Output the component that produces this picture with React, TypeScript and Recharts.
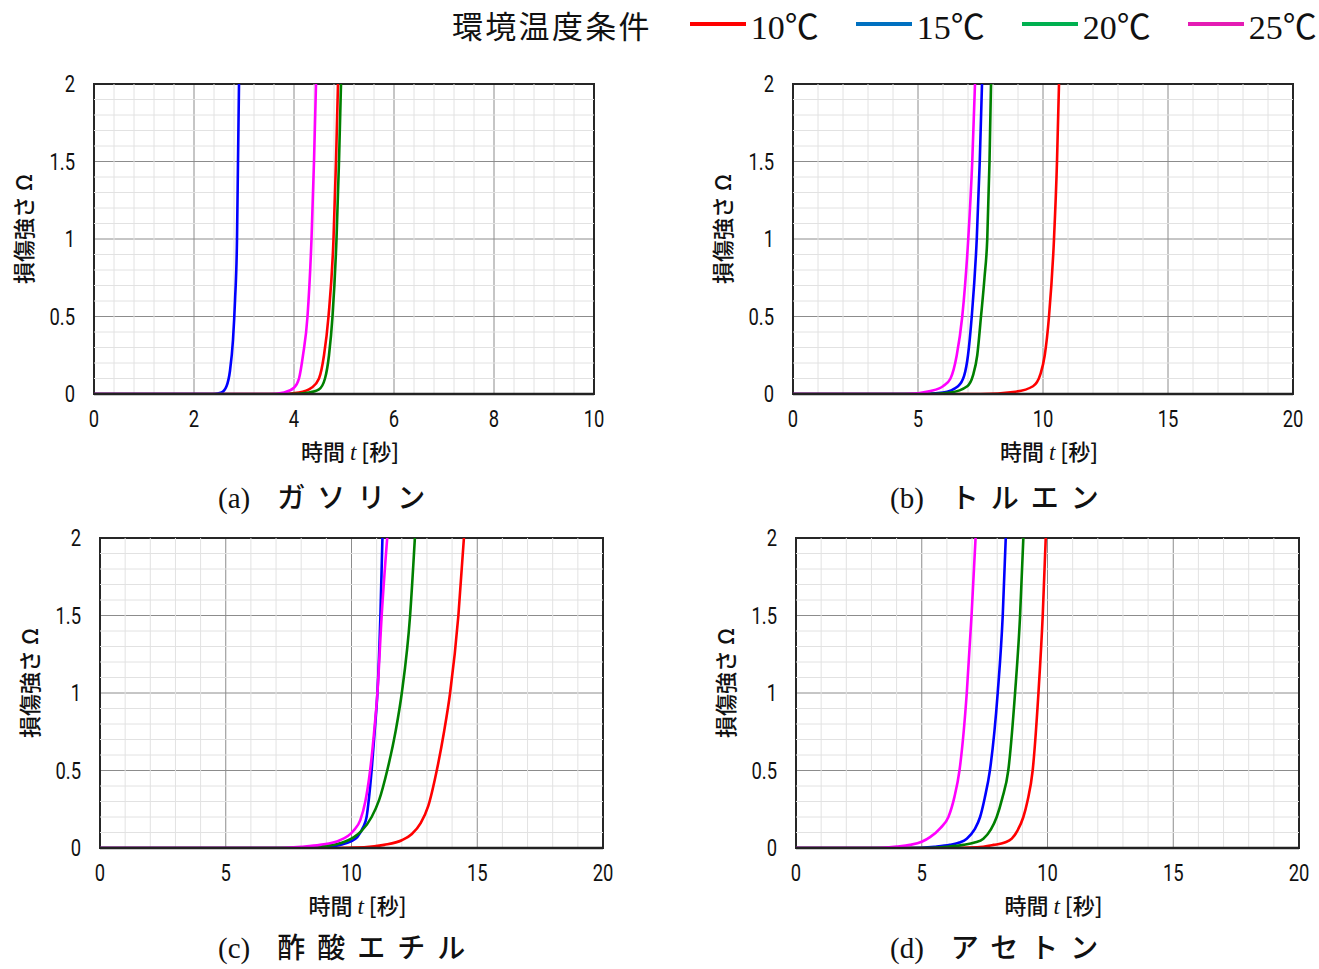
import { LineChart, Line, XAxis, YAxis, CartesianGrid, ReferenceLine, ReferenceArea } from "recharts";

// 環境温度条件
const TEMPS = ["10℃", "15℃", "20℃", "25℃"];
const LINE_COLORS = ["#ff0000", "#0000ff", "#008000", "#ff00ff"];
const LEGEND_COLORS = ["#ff0000", "#0070c0", "#00b050", "#e41cb4"];

const Y_TICKS = [0, 0.5, 1, 1.5, 2];
const X_TICKS_10 = [0, 2, 4, 6, 8, 10];
const X_TICKS_20 = [0, 5, 10, 15, 20];

// [t (秒), Ω]
const GASOLINE_10 = [[0, 0], [3.7, 0], [4.1, 0.01], [4.35, 0.04], [4.5, 0.1], [4.6, 0.25], [4.69, 0.5], [4.79, 1.0], [4.84, 1.5], [4.88, 2]];
const GASOLINE_15 = [[0, 0], [2.4, 0], [2.55, 0.01], [2.65, 0.05], [2.72, 0.15], [2.78, 0.35], [2.82, 0.6], [2.86, 1.0], [2.88, 1.5], [2.9, 2]];
const GASOLINE_20 = [[0, 0], [3.9, 0], [4.3, 0.01], [4.5, 0.03], [4.62, 0.1], [4.7, 0.25], [4.77, 0.5], [4.85, 1.0], [4.9, 1.5], [4.94, 2]];
const GASOLINE_25 = [[0, 0], [3.5, 0], [3.8, 0.01], [4.0, 0.04], [4.1, 0.1], [4.18, 0.25], [4.27, 0.5], [4.35, 1.0], [4.4, 1.5], [4.44, 2]];

const TOLUENE_10 = [[0, 0], [7.5, 0], [8.9, 0.015], [9.6, 0.05], [9.9, 0.13], [10.07, 0.25], [10.24, 0.5], [10.44, 1.0], [10.56, 1.5], [10.64, 2]];
const TOLUENE_15 = [[0, 0], [5, 0], [6.0, 0.01], [6.6, 0.05], [6.85, 0.12], [7.0, 0.25], [7.15, 0.5], [7.35, 1.0], [7.47, 1.5], [7.56, 2]];
const TOLUENE_20 = [[0, 0], [5.2, 0], [6.3, 0.01], [6.97, 0.05], [7.2, 0.12], [7.37, 0.25], [7.52, 0.5], [7.66, 0.75], [7.77, 1.0], [7.86, 1.5], [7.92, 2]];
const TOLUENE_25 = [[0, 0], [4.5, 0], [5.5, 0.02], [6.0, 0.05], [6.3, 0.1], [6.55, 0.25], [6.77, 0.5], [7.01, 1.0], [7.17, 1.5], [7.28, 2]];

const ETHYL_ACETATE_10 = [[0, 0], [9, 0], [10.5, 0.005], [11.3, 0.02], [12.0, 0.05], [12.4, 0.09], [12.75, 0.16], [13.05, 0.27], [13.39, 0.5], [13.68, 0.75], [13.92, 1.0], [14.25, 1.5], [14.47, 2]];
const ETHYL_ACETATE_15 = [[0, 0], [7.5, 0], [9.0, 0.005], [9.54, 0.02], [10.0, 0.045], [10.23, 0.07], [10.45, 0.13], [10.6, 0.2], [10.7, 0.33], [10.8, 0.5], [10.92, 0.75], [11.03, 1.0], [11.15, 1.5], [11.23, 2]];
const ETHYL_ACETATE_20 = [[0, 0], [7.5, 0], [8.8, 0.01], [9.54, 0.03], [10.1, 0.07], [10.4, 0.11], [10.8, 0.2], [11.1, 0.31], [11.42, 0.5], [11.75, 0.75], [12.0, 1.0], [12.33, 1.5], [12.52, 2]];
const ETHYL_ACETATE_25 = [[0, 0], [7, 0], [8.0, 0.008], [8.75, 0.02], [9.54, 0.05], [10.07, 0.11], [10.35, 0.18], [10.55, 0.3], [10.74, 0.5], [10.9, 0.75], [11.03, 1.0], [11.2, 1.5], [11.42, 2]];

const ACETONE_10 = [[0, 0], [6, 0], [7.2, 0.005], [7.85, 0.02], [8.3, 0.035], [8.58, 0.06], [8.8, 0.11], [9.04, 0.2], [9.2, 0.3], [9.41, 0.5], [9.64, 1.0], [9.81, 1.5], [9.93, 2]];
const ACETONE_15 = [[0, 0], [4.5, 0], [5.5, 0.008], [6.12, 0.02], [6.5, 0.035], [6.79, 0.06], [7.1, 0.12], [7.32, 0.2], [7.5, 0.32], [7.71, 0.5], [8.02, 1.0], [8.22, 1.5], [8.34, 2]];
const ACETONE_20 = [[0, 0], [5, 0], [6.0, 0.008], [6.65, 0.02], [7.1, 0.035], [7.45, 0.06], [7.75, 0.12], [7.98, 0.2], [8.2, 0.32], [8.44, 0.5], [8.71, 1.0], [8.91, 1.5], [9.04, 2]];
const ACETONE_25 = [[0, 0], [3, 0], [4.0, 0.01], [4.53, 0.02], [5.0, 0.04], [5.33, 0.07], [5.75, 0.13], [6.06, 0.2], [6.3, 0.33], [6.5, 0.5], [6.79, 1.0], [6.98, 1.5], [7.14, 2]];

const TICK_FONT = "'Liberation Sans Narrow', Roboto, 'Noto Sans CJK JP', sans-serif";
const JP_FONT = "'Noto Sans CJK JP', sans-serif";
const SERIF = "'Liberation Serif', 'Noto Sans CJK JP', serif";

const toPts = (arr: number[][]) => arr.map(([t, w]) => ({ t, w }));

const minorTicks = (max: number, step: number, major: number[]) => {
  const out: number[] = [];
  for (let i = 1; i * step < max - 1e-9; i++) {
    const v = +(i * step).toFixed(3);
    if (!major.some((m) => Math.abs(m - v) < 1e-6)) out.push(v);
  }
  return out;
};

// narrow tick labels (the original uses a condensed face)
function NarrowTick(props: any) {
  const { x, y, payload, anchor, dy } = props;
  return (
    <g transform={`translate(${x},${y})`}>
      <text
        transform="scale(0.8,1)"
        textAnchor={anchor}
        dy={dy}
        fontSize={23}
        fill="#111"
        fontFamily={TICK_FONT}
      >
        {payload.value}
      </text>
    </g>
  );
}

type Panel = {
  tag: string;
  name: string;
  xMax: number;
  xTicks: number[];
  xMinor: number;
  series: number[][][];
  left: number;
  top: number;
  width: number;
  height: number;
  titleLeft: number;
};

const PANELS: Panel[] = [
  { tag: "(a)", name: "ガソリン", xMax: 10, xTicks: X_TICKS_10, xMinor: 0.4, series: [GASOLINE_10, GASOLINE_15, GASOLINE_20, GASOLINE_25], left: 94, top: 84, width: 500, height: 310, titleLeft: 218 },
  { tag: "(b)", name: "トルエン", xMax: 20, xTicks: X_TICKS_20, xMinor: 1, series: [TOLUENE_10, TOLUENE_15, TOLUENE_20, TOLUENE_25], left: 793, top: 84, width: 500, height: 310, titleLeft: 890 },
  { tag: "(c)", name: "酢酸エチル", xMax: 20, xTicks: X_TICKS_20, xMinor: 1, series: [ETHYL_ACETATE_10, ETHYL_ACETATE_15, ETHYL_ACETATE_20, ETHYL_ACETATE_25], left: 100, top: 538, width: 503, height: 310, titleLeft: 218 },
  { tag: "(d)", name: "アセトン", xMax: 20, xTicks: X_TICKS_20, xMinor: 1, series: [ACETONE_10, ACETONE_15, ACETONE_20, ACETONE_25], left: 796, top: 538, width: 503, height: 310, titleLeft: 890 },
];

const ML = 70, MT = 20, MR = 25, MB = 15, XH = 30;

function DamagePanel({ p }: { p: Panel }) {
  const xMinor = minorTicks(p.xMax, p.xMinor, p.xTicks);
  const yMinor = minorTicks(2, 0.1, Y_TICKS);
  const titleMid = Math.min(p.top + p.height + 102, 946);
  return (
    <>
      <div style={{ position: "absolute", left: p.left - ML, top: p.top - MT }}>
        <LineChart
          width={p.width + ML + MR}
          height={p.height + MT + MB + XH}
          margin={{ top: MT, right: MR, bottom: MB, left: 0 }}
        >
          <XAxis
            dataKey="t"
            type="number"
            domain={[0, p.xMax]}
            ticks={p.xTicks}
            height={XH}
            tick={<NarrowTick anchor="middle" dy="0.71em" />}
            tickLine={false}
            tickSize={0}
            tickMargin={17}
            axisLine={{ stroke: "#222", strokeWidth: 2.5 }}
            allowDataOverflow
          />
          <YAxis
            type="number"
            domain={[0, 2]}
            ticks={Y_TICKS}
            width={ML}
            tick={<NarrowTick anchor="end" dy="0.355em" />}
            tickLine={false}
            tickSize={0}
            tickMargin={19}
            axisLine={false}
            allowDataOverflow
          />
          {xMinor.map((v) => (
            <ReferenceLine key={"x" + v} x={v} stroke="#e2e2e2" strokeWidth={1} />
          ))}
          {yMinor.map((v) => (
            <ReferenceLine key={"y" + v} y={v} stroke="#e2e2e2" strokeWidth={1} />
          ))}
          <CartesianGrid stroke="#8c8c8c" strokeWidth={1} />
          {p.series.map((s, i) => (
            <Line
              key={TEMPS[i]}
              data={toPts(s)}
              dataKey="w"
              type="monotone"
              stroke={LINE_COLORS[i]}
              strokeWidth={2.6}
              dot={false}
              isAnimationActive={false}
            />
          ))}
          <ReferenceArea x1={0} x2={p.xMax} y1={0} y2={2} fill="none" stroke="#262626" strokeWidth={2} ifOverflow="visible" />
        </LineChart>
      </div>
      <div
        style={{
          position: "absolute",
          left: p.left - 72 - 80,
          top: p.top + p.height / 2 - 10 - 14,
          width: 160,
          height: 28,
          textAlign: "center",
          transform: "rotate(-90deg)",
          fontFamily: JP_FONT,
          fontSize: 22,
          fontWeight: 500,
          lineHeight: "28px",
          color: "#111",
          whiteSpace: "nowrap",
        }}
      >
        損傷強さ Ω
      </div>
      <div
        style={{
          position: "absolute",
          left: p.left + p.width / 2 + 6 - 100,
          top: p.top + p.height + 56 - 15,
          width: 200,
          textAlign: "center",
          fontSize: 22,
          lineHeight: "30px",
          color: "#111",
          whiteSpace: "nowrap",
        }}
      >
        <span style={{ fontFamily: JP_FONT, fontWeight: 500 }}>時間 </span>
        <span style={{ fontFamily: SERIF, fontStyle: "italic", fontSize: 23 }}>t</span>
        <span style={{ fontFamily: JP_FONT, fontWeight: 500 }}> [秒]</span>
      </div>
      <div
        style={{
          position: "absolute",
          left: p.titleLeft,
          top: titleMid - 16,
          height: 32,
          lineHeight: "32px",
          color: "#111",
          whiteSpace: "nowrap",
        }}
      >
        <span style={{ fontFamily: SERIF, fontSize: 29, marginRight: 27 }}>{p.tag}</span>
        <span style={{ fontFamily: JP_FONT, fontSize: 28, fontWeight: 500, letterSpacing: 12 }}>{p.name}</span>
      </div>
    </>
  );
}

export default function App() {
  return (
    <div style={{ position: "absolute", left: 0, top: 0, width: 1319, height: 969, background: "#fff", overflow: "hidden" }}>
      <div style={{ position: "absolute", left: 452, top: 4, height: 40, display: "flex", alignItems: "center", whiteSpace: "nowrap" }}>
        <span style={{ fontFamily: JP_FONT, fontSize: 31, color: "#111", marginRight: 38, letterSpacing: 2.3 }}>環境温度条件</span>
        {TEMPS.map((t, i) => (
          <span key={t} style={{ display: "flex", alignItems: "center", marginRight: i < TEMPS.length - 1 ? 37 : 0 }}>
            <span style={{ display: "inline-block", width: 56, height: 4, background: LEGEND_COLORS[i], marginRight: 5 }} />
            <span style={{ fontFamily: SERIF, fontSize: 34, color: "#111" }}>{t}</span>
          </span>
        ))}
      </div>
      {PANELS.map((p) => (
        <DamagePanel key={p.tag} p={p} />
      ))}
    </div>
  );
}
